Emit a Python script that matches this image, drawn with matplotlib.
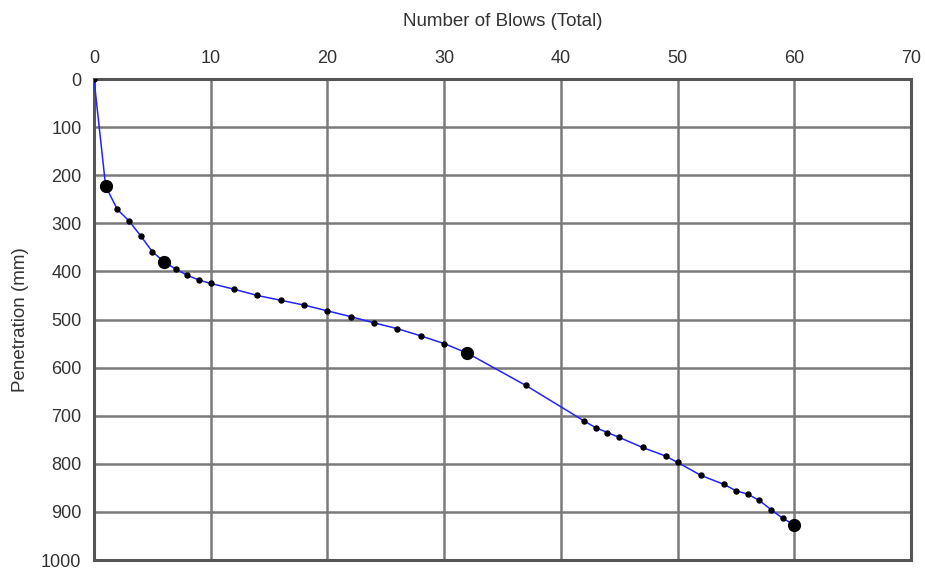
import matplotlib
matplotlib.use("Agg")
import matplotlib.pyplot as plt

# readings: total blows vs penetration (mm)
blows = [0, 1, 2, 3, 4, 5, 6, 7, 8, 9, 10, 12, 14, 16, 18, 20, 22, 24, 26, 28,
         30, 32, 37, 42, 43, 44, 45, 47, 49, 50, 52, 54, 55, 56, 57, 58, 59, 60]
penetration = [0, 223, 271, 295, 326, 359, 380, 395, 408, 418, 425, 437, 450, 460,
               470, 482, 494, 507, 519, 534, 550, 570, 637, 711, 725, 735, 745, 766,
               784, 797, 824, 843, 856, 863, 876, 895, 913, 927]
# layer change points drawn larger
big_blows = [1, 6, 32, 60]
big_pen = [223, 380, 570, 927]

plt.rcParams['font.family'] = ['Liberation Sans', 'DejaVu Sans']
fig = plt.figure(figsize=(9.25, 5.69), dpi=100)
ax = fig.add_axes([0.1016, 0.0158, 0.8832, 0.8453])

ax.plot(blows, penetration, color='#2222ff', linewidth=1.1, zorder=3)
ax.plot(blows, penetration, 'o', color='black', markersize=3.6, zorder=4)
ax.plot(big_blows, big_pen, 'o', color='black', markersize=8.5, zorder=5)

ax.set_xlim(0, 70)
ax.set_ylim(1000, 0)
ax.set_xticks(range(0, 71, 10))
ax.set_yticks(range(0, 1001, 100))
ax.xaxis.tick_top()
ax.xaxis.set_label_position('top')
ax.set_xlabel('Number of Blows (Total)', fontsize=13.5, color='#333333', labelpad=17)
ax.set_ylabel('Penetration (mm)', fontsize=13.5, color='#333333', labelpad=9)
ax.tick_params(length=0, labelsize=13, labelcolor='#333333', pad=9)
ax.grid(True, color='#7a7a7a', linewidth=1.8)
ax.set_axisbelow(True)
for s in ax.spines.values():
  s.set_color('#555555')
  s.set_linewidth(2.2)

fig.savefig('out.png', dpi=100)
